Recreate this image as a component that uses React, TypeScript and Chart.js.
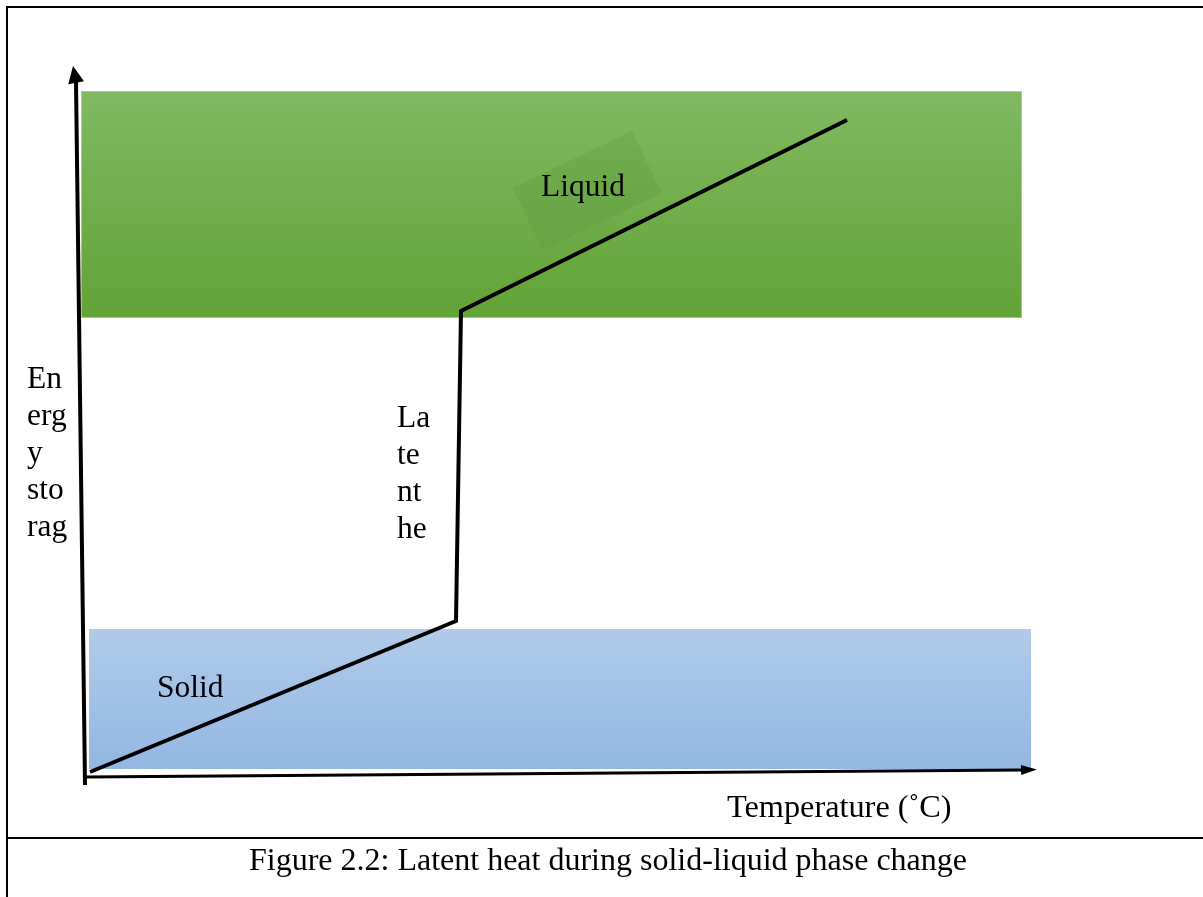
import React, { useEffect, useRef } from "react";
import { Chart, registerables } from "chart.js";

Chart.register(...registerables);

// Heating curve (temperature, energy stored) in arbitrary diagram units
const curveTemperature = [0.4, 37.0, 37.5, 76.1];
const curveEnergy = [0.4, 15.5, 46.5, 65.6];

// Phase bands: [tMin, tMax, eMin, eMax]
const liquidBand = [-0.5, 93.6, 45.8, 68.5];
const solidBand = [0.3, 94.5, 0.7, 14.7];

// Tilted box behind the "Liquid" label (corners, t / e)
const liquidBoxT = [42.7, 54.6, 57.6, 45.6];
const liquidBoxE = [58.8, 64.5, 58.3, 52.6];

// Axes (start, end, arrow tip)
const yAxisT = [-0.1, -1.0, -1.3];
const yAxisE = [-0.9, 69.4, 71.0];
const xAxisT = [-0.1, 93.6, 95.1];
const xAxisE = [-0.1, 0.6, 0.65];

// Labels
const energyLabelLines = ["En", "erg", "y", "sto", "rag"];
const latentLabelLines = ["La", "te", "nt", "he"];
const liquidLabel = "Liquid";
const solidLabel = "Solid";
const xAxisLabel = "Temperature (˚C)";
const caption = "Figure 2.2: Latent heat during solid-liquid phase change";

const FONT = '31.5px "Liberation Serif", "Times New Roman", serif';
const AXIS_FONT = '32.3px "Liberation Serif", "Times New Roman", serif';

const diagramPlugin = {
  id: "diagram",
  beforeDatasetsDraw(chart: any) {
    const { ctx, scales } = chart;
    const X = (v: number) => scales.x.getPixelForValue(v);
    const Y = (v: number) => scales.y.getPixelForValue(v);
    ctx.save();
    // liquid band
    {
      const [t0, t1, e0, e1] = liquidBand;
      const top = Y(e1), bot = Y(e0);
      const g = ctx.createLinearGradient(0, top, 0, bot);
      g.addColorStop(0, "#80b962");
      g.addColorStop(1, "#62a336");
      ctx.fillStyle = g;
      ctx.fillRect(X(t0), top, X(t1) - X(t0), bot - top);
      ctx.strokeStyle = "rgba(160,210,140,0.9)";
      ctx.lineWidth = 1;
      ctx.strokeRect(X(t0) + 0.5, top + 0.5, X(t1) - X(t0) - 1, bot - top - 1);
    }
    // solid band
    {
      const [t0, t1, e0, e1] = solidBand;
      const top = Y(e1), bot = Y(e0);
      const g = ctx.createLinearGradient(0, top, 0, bot);
      g.addColorStop(0, "#b1cbe9");
      g.addColorStop(1, "#93b7e2");
      ctx.fillStyle = g;
      ctx.fillRect(X(t0), top, X(t1) - X(t0), bot - top);
    }
    // tilted box
    ctx.beginPath();
    liquidBoxT.forEach((t, i) => {
      const px = X(t), py = Y(liquidBoxE[i]);
      if (i === 0) ctx.moveTo(px, py);
      else ctx.lineTo(px, py);
    });
    ctx.closePath();
    ctx.fillStyle = "rgba(95,150,60,0.28)";
    ctx.fill();

    // axes with arrows
    const drawArrow = (ts: number[], es: number[], w: number, headLen: number, headHalf: number) => {
      const x0 = X(ts[0]), y0 = Y(es[0]), x1 = X(ts[1]), y1 = Y(es[1]);
      const xt = X(ts[2]), yt = Y(es[2]);
      ctx.strokeStyle = "#000";
      ctx.lineWidth = w;
      ctx.lineCap = "butt";
      ctx.beginPath();
      ctx.moveTo(x0, y0);
      ctx.lineTo(x1, y1);
      ctx.stroke();
      const ang = Math.atan2(yt - y1, xt - x1);
      const bx = xt - Math.cos(ang) * headLen, by = yt - Math.sin(ang) * headLen;
      const nx = -Math.sin(ang), ny = Math.cos(ang);
      ctx.fillStyle = "#000";
      ctx.beginPath();
      ctx.moveTo(xt, yt);
      ctx.lineTo(bx + nx * headHalf, by + ny * headHalf);
      ctx.lineTo(bx - nx * headHalf, by - ny * headHalf);
      ctx.closePath();
      ctx.fill();
    };
    drawArrow(yAxisT, yAxisE, 4, 17, 8);
    drawArrow(xAxisT, xAxisE, 3, 16, 5);
    ctx.restore();
  },
  afterDatasetsDraw(chart: any) {
    const { ctx, scales } = chart;
    const X = (v: number) => scales.x.getPixelForValue(v);
    const Y = (v: number) => scales.y.getPixelForValue(v);
    ctx.save();
    ctx.font = FONT;
    ctx.fillStyle = "#000";
    ctx.textAlign = "left";
    ctx.textBaseline = "alphabetic";
    ctx.fillText(liquidLabel, X(45.5), Y(58.0));
    ctx.fillText(solidLabel, X(7.1), Y(7.9));
    energyLabelLines.forEach((s, i) => ctx.fillText(s, X(-5.9), Y(38.8 - i * 3.7)));
    latentLabelLines.forEach((s, i) => ctx.fillText(s, X(31.1), Y(34.9 - i * 3.7)));
    ctx.font = AXIS_FONT;
    ctx.fillText(xAxisLabel, X(64.1), Y(-4.1));
    ctx.restore();
  },
};

export default function App() {
  const ref = useRef<HTMLCanvasElement | null>(null);
  useEffect(() => {
    if (!ref.current) return;
    const chart = new Chart(ref.current, {
      type: "scatter",
      data: {
        datasets: [
          {
            label: "Energy storage",
            data: curveTemperature.map((t, i) => ({ x: t, y: curveEnergy[i] })),
            showLine: true,
            borderColor: "#000",
            borderWidth: 4,
            pointRadius: 0,
            tension: 0,
            borderJoinStyle: "miter",
          } as any,
        ],
      },
      options: {
        animation: false,
        responsive: false,
        maintainAspectRatio: false,
        layout: { padding: 0 },
        plugins: { legend: { display: false }, tooltip: { enabled: false }, title: { display: false } },
        scales: {
          x: { type: "linear", min: -8.6, max: 111.7, display: false },
          y: { type: "linear", min: -12.1, max: 77.6, display: false },
        },
      },
      plugins: [diagramPlugin],
    });
    return () => chart.destroy();
  }, []);

  const line = (style: React.CSSProperties) => (
    <div style={{ position: "absolute", background: "#000", ...style }} />
  );

  return (
    <div style={{ position: "absolute", left: 0, top: 0, width: 1203, height: 897, overflow: "hidden", background: "#fff" }}>
      <canvas ref={ref} width={1203} height={897} style={{ position: "absolute", left: 0, top: 0, width: 1203, height: 897 }} />
      {line({ left: 6, top: 6, width: 1197, height: 2 })}
      {line({ left: 6, top: 6, width: 2, height: 891 })}
      {line({ left: 6, top: 837, width: 1197, height: 2 })}
      <div
        style={{
          position: "absolute",
          left: 0,
          width: 1216,
          top: 840,
          textAlign: "center",
          font: '32px "Liberation Serif", "Times New Roman", serif',
          lineHeight: "38px",
          color: "#000",
        }}
      >
        {caption}
      </div>
    </div>
  );
}
